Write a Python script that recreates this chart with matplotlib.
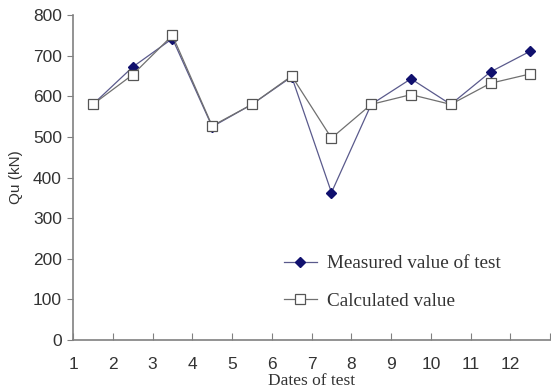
import matplotlib
matplotlib.use("Agg")
import matplotlib.pyplot as plt

# Test dates sit midway between integer ticks
dates = [1.5, 2.5, 3.5, 4.5, 5.5, 6.5, 7.5, 8.5, 9.5, 10.5, 11.5, 12.5]
measured = [580, 672, 742, 525, 580, 648, 363, 580, 643, 580, 660, 711]
calculated = [580, 653, 750, 527, 580, 650, 497, 580, 604, 580, 632, 655]
x_ticks = list(range(1, 14))
x_tick_labels = [str(i) for i in range(1, 13)] + [""]
y_ticks = list(range(0, 801, 100))

fig = plt.figure(figsize=(5.51, 3.91), dpi=100)
ax = fig.add_axes([0.1325, 0.1304, 0.866, 0.8312])

ax.plot(dates, measured, color="#5a5a8c", lw=0.9, marker="D", ms=5.5,
        mfc="#10106e", mec="#10106e", label="Measured value of test", zorder=3)
ax.plot(dates, calculated, color="#707070", lw=0.9, marker="s", ms=6.5,
        mfc="white", mec="#555555", mew=0.9, label="Calculated value", zorder=4)

ax.set_xlim(1, 13)
ax.set_ylim(0, 800)
ax.set_xticks(x_ticks)
ax.set_xticklabels(x_tick_labels)
ax.set_yticks(y_ticks)

for s in ("top", "right"):
    ax.spines[s].set_visible(False)
for s in ("left", "bottom"):
    ax.spines[s].set_color("#808080")
    ax.spines[s].set_linewidth(1.2)

ax.tick_params(axis="x", direction="in", length=5, color="#808080",
               labelsize=12.5, pad=12, labelcolor="#333333")
ax.tick_params(axis="y", direction="out", length=4, color="#808080",
               labelsize=12.5, pad=4, labelcolor="#333333")
for lbl in ax.get_xticklabels() + ax.get_yticklabels():
    lbl.set_family("Liberation Sans")

ax.set_xlabel("Dates of test", family="Liberation Serif", fontsize=12.5,
              color="#333333", labelpad=1)
ax.set_ylabel("Qu (kN)", family="Liberation Sans", fontsize=11,
              color="#333333", labelpad=7)

leg = ax.legend(loc="lower left", bbox_to_anchor=(0.405, 0.04), frameon=False,
                prop={"family": "Liberation Serif", "size": 13.8},
                handlelength=1.75, labelspacing=1.05, handletextpad=0.5)
for t in leg.get_texts():
    t.set_color("#333333")

fig.savefig("out.png", dpi=100)
